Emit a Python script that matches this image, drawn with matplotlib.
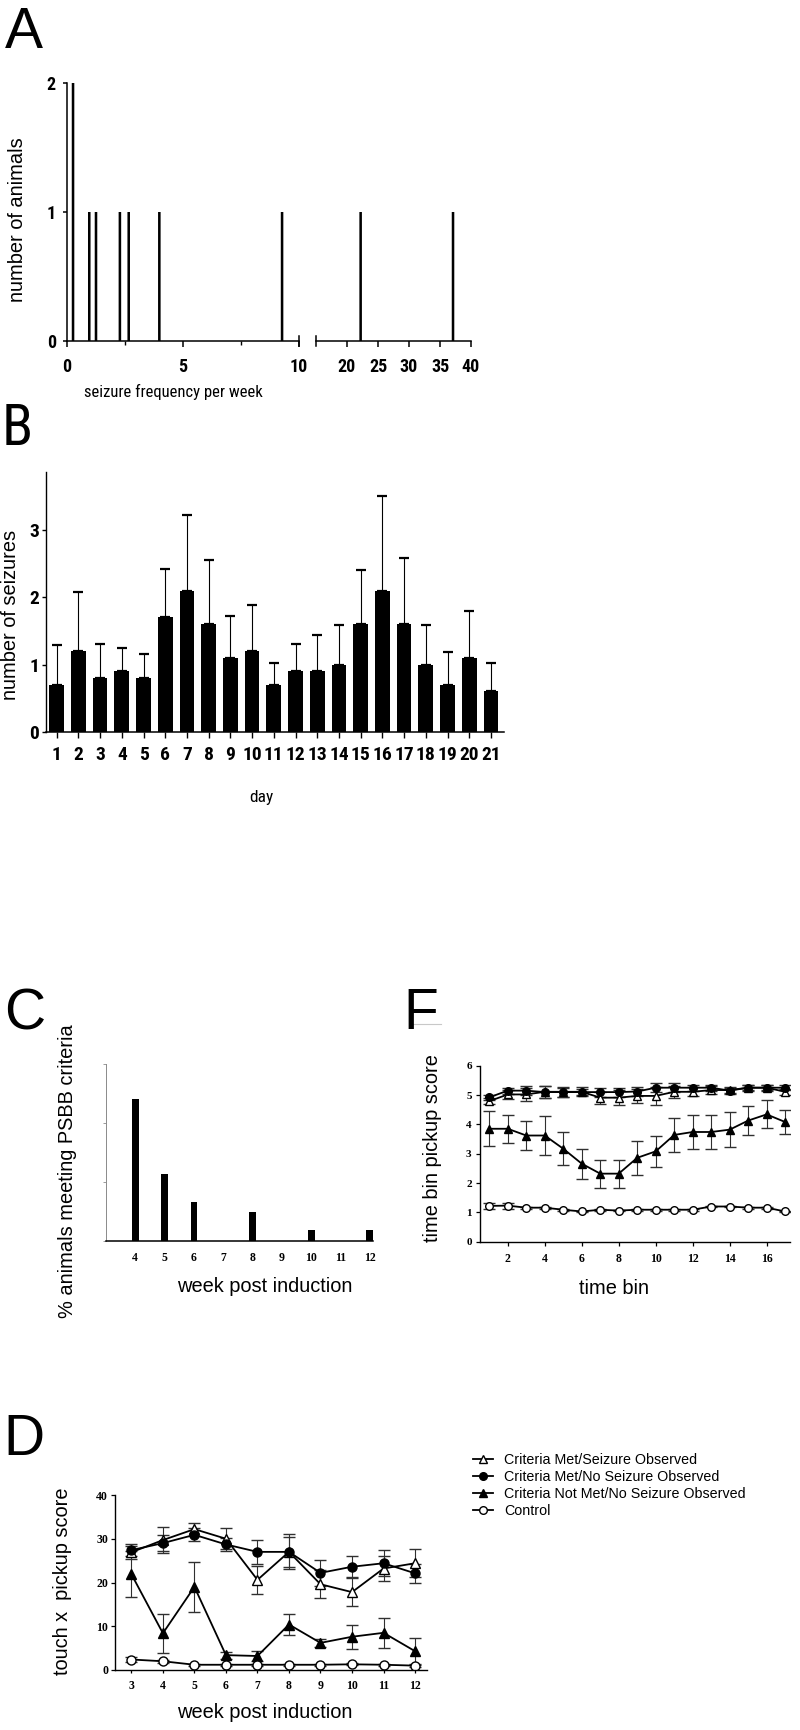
import matplotlib
matplotlib.use('Agg')
import matplotlib.pyplot as plt
from matplotlib import font_manager as fm
from matplotlib.lines import Line2D
import numpy as np

# ---------------- data ----------------
# Panel A: seizure frequency histogram
freq_per_week = [0.26, 0.96, 1.25, 2.28, 2.66, 3.98, 9.27, 22.2, 37.1]
n_animals = [2, 1, 1, 1, 1, 1, 1, 1, 1]
a_yticks = [0, 1, 2]
a_xticks_low = [0, 5, 10]
a_xticks_high = [20, 25, 30, 35, 40]

# Panel B: seizures per day
days = list(range(1, 22))
seizures_mean = [0.7, 1.2, 0.8, 0.9, 0.8, 1.7, 2.1, 1.6, 1.1, 1.2, 0.7,
                 0.9, 0.9, 1.0, 1.6, 2.1, 1.6, 1.0, 0.7, 1.1, 0.6]
seizures_err = [0.59, 0.88, 0.51, 0.35, 0.35, 0.72, 1.12, 0.96, 0.62, 0.68, 0.33,
                0.41, 0.54, 0.59, 0.81, 1.41, 0.99, 0.59, 0.48, 0.70, 0.42]
b_yticks = [0, 1, 2, 3]

# Panel C: % animals meeting PSBB criteria
weeks_c = [4, 5, 6, 7, 8, 9, 10, 11, 12]
pct_c = [48, 22.5, 13, 0, 9.6, 0, 3.5, 0, 3.5]
c_yticks = [0, 20, 40, 60]

# Panel E (labelled F): time bin pickup score
time_bins = list(range(1, 18))
e_met_seiz = [4.79, 5.02, 5.02, 5.11, 5.11, 5.11, 4.91, 4.91, 4.97, 4.97, 5.11,
              5.11, 5.17, 5.17, 5.25, 5.25, 5.11]
e_met_seiz_err = [0.10, 0.15, 0.22, 0.20, 0.18, 0.15, 0.20, 0.25, 0.25, 0.30, 0.20,
                  0.15, 0.15, 0.10, 0.10, 0.10, 0.10]
e_met_noseiz = [4.92, 5.15, 5.15, 5.10, 5.10, 5.10, 5.10, 5.10, 5.12, 5.25, 5.25,
                5.25, 5.25, 5.15, 5.25, 5.25, 5.25]
e_met_noseiz_err = [0.08, 0.10, 0.15, 0.20, 0.15, 0.10, 0.15, 0.15, 0.15, 0.15, 0.15,
                    0.10, 0.10, 0.10, 0.08, 0.08, 0.08]
e_notmet = [3.85, 3.85, 3.62, 3.62, 3.17, 2.66, 2.32, 2.32, 2.86, 3.08, 3.64,
            3.74, 3.74, 3.82, 4.13, 4.34, 4.08]
e_notmet_err = [0.60, 0.48, 0.48, 0.66, 0.57, 0.51, 0.48, 0.48, 0.57, 0.54, 0.57,
                0.57, 0.57, 0.60, 0.50, 0.48, 0.40]
e_control = [1.22, 1.23, 1.16, 1.16, 1.09, 1.03, 1.09, 1.06, 1.09, 1.09, 1.09,
             1.09, 1.20, 1.20, 1.16, 1.16, 1.03]
e_control_err = [0.10, 0.10, 0.03, 0.03, 0.03, 0.03, 0.03, 0.03, 0.03, 0.03, 0.03,
                 0.03, 0.03, 0.03, 0.03, 0.03, 0.03]
e_yticks = [0, 1, 2, 3, 4, 5, 6]
e_xticks = [2, 4, 6, 8, 10, 12, 14, 16]

# Panel D: touch x pickup score
weeks_d = [3, 4, 5, 6, 7, 8, 9, 10, 11, 12]
d_met_seiz = [26.9, 29.7, 32.2, 30.0, 20.6, 27.0, 19.6, 17.8, 23.2, 24.4]
d_met_seiz_err = [1.5, 2.9, 1.5, 2.4, 3.2, 4.0, 3.2, 3.2, 2.9, 3.2]
d_met_noseiz = [27.4, 29.0, 30.9, 28.7, 27.0, 27.0, 22.2, 23.6, 24.4, 22.1]
d_met_noseiz_err = [1.3, 1.8, 1.5, 1.5, 2.7, 3.5, 3.0, 2.4, 3.0, 2.2]
d_notmet = [21.9, 8.4, 19.0, 3.4, 3.2, 10.4, 6.2, 7.6, 8.5, 4.3]
d_notmet_err = [5.2, 4.4, 5.7, 0.8, 1.1, 2.5, 1.0, 2.7, 3.5, 3.0]
d_control = [2.4, 2.0, 1.2, 1.2, 1.2, 1.2, 1.2, 1.3, 1.2, 1.0]
d_control_err = [0.5, 0.3, 0.2, 0.2, 0.2, 0.2, 0.2, 0.2, 0.2, 0.2]
d_yticks = [0, 10, 20, 30, 40]

group_labels = ['Criteria Met/Seizure Observed',
                'Criteria Met/No Seizure Observed',
                'Criteria Not Met/No Seizure Observed',
                'Control']

# ---------------- fonts ----------------
SANS = 'Liberation Sans'
SERIF = 'Liberation Serif'
_names = {f.name for f in fm.fontManager.ttflist}
NARROW = None
for cand in ['Liberation Sans Narrow', 'Arial Narrow', 'DejaVu Sans Condensed',
             'Roboto Condensed', 'Open Sans Condensed', 'Noto Sans Condensed']:
    if cand in _names:
        NARROW = cand
        break
NARROW_STRETCH = 'normal'
if NARROW is None:
    cond = [f for f in fm.fontManager.ttflist
            if str(f.stretch) in ('condensed', 'semi-condensed', '75', '87')
            and 'Serif' not in f.name and 'Mono' not in f.name]
    if cond:
        NARROW = cond[0].name
        NARROW_STRETCH = 'condensed'
NARROW_OK = NARROW is not None
if not NARROW_OK:
    NARROW = SANS
plt.rcParams['font.family'] = [SANS, 'DejaVu Sans']

W, H = 800, 1730
fig = plt.figure(figsize=(W / 100, H / 100), dpi=100)


def rect(l, r, t, b):
    return [l / W, 1 - b / H, (r - l) / W, (b - t) / H]


def ftext(x, y, s, **kw):
    return fig.text(x / W, 1 - y / H, s, **kw)


LAB = 14.4
narrow_kw = dict(fontfamily=NARROW, fontstretch=NARROW_STRETCH)

# ---------------- Panel A ----------------
axA1 = fig.add_axes(rect(67, 299, 83, 341))
axA2 = fig.add_axes(rect(316, 471, 83, 341))
fa = np.array(freq_per_week)
na = np.array(n_animals)
low = fa <= 10
axA1.bar(fa[low], na[low], width=0.11, color='black', snap=False)
axA2.bar(fa[~low], na[~low], width=0.41, color='black', snap=False)
axA1.set_xlim(0, 10)
axA2.set_xlim(15, 40)
for ax in (axA1, axA2):
    ax.set_ylim(0, 2)
    ax.spines['top'].set_visible(False)
    ax.spines['right'].set_visible(False)
    ax.spines['bottom'].set_linewidth(1.1)
    ax.spines['left'].set_linewidth(1.1)
axA2.spines['left'].set_visible(False)
axA2.set_yticks([])
tick_font_a = dict(fontsize=13 if NARROW_OK else 11, fontweight='bold', **narrow_kw)
axA1.set_yticks(a_yticks, labels=[str(v) for v in a_yticks], **tick_font_a)
axA1.set_xticks(a_xticks_low, labels=[str(v) for v in a_xticks_low], **tick_font_a)
axA1.set_xticks([2.5, 7.5], minor=True)
axA2.set_xticks(a_xticks_high, labels=[str(v) for v in a_xticks_high], **tick_font_a)
for ax in (axA1, axA2):
    ax.tick_params(axis='x', which='major', length=4, width=1.1, pad=8.5)
    ax.tick_params(axis='x', which='minor', length=3, width=1.0)
    ax.tick_params(axis='y', length=3, width=1.1, pad=5)
# axis break caps
axA1.plot([1, 1], [-0.02, 0.02], transform=axA1.transAxes, color='black', lw=1.1, clip_on=False)
axA2.plot([0, 0], [-0.02, 0.02], transform=axA2.transAxes, color='black', lw=1.1, clip_on=False)

ftext(18, 219.5, 'number of animals', rotation=90, ha='center', va='center', fontsize=LAB)
ftext(173, 392, 'seizure frequency per week', ha='center', va='center',
      fontsize=12 if NARROW_OK else 10, **narrow_kw)

# ---------------- Panel B ----------------
axB = fig.add_axes(rect(46, 504, 471.7, 731.7))
axB.bar(days, seizures_mean, width=0.68, color='black', zorder=2)
axB.errorbar(days, seizures_mean, yerr=[np.zeros(len(days)), seizures_err], fmt='none',
             ecolor='black', elinewidth=0.8, capsize=3.5, capthick=1.6, zorder=1)
axB.set_xlim(0.51, 21.6)
axB.set_ylim(0, 3.87)
axB.spines['top'].set_visible(False)
axB.spines['right'].set_visible(False)
axB.spines['bottom'].set_linewidth(1.1)
axB.spines['left'].set_linewidth(1.0)
tick_font_b = dict(fontsize=14 if NARROW_OK else 11.5, fontweight='bold', **narrow_kw)
axB.set_xticks(days, labels=[str(d) for d in days], **tick_font_b)
axB.set_yticks(b_yticks, labels=[str(v) for v in b_yticks], **tick_font_b)
axB.tick_params(axis='x', length=4, width=1.0, pad=6)
axB.tick_params(axis='y', length=3, width=1.0, pad=2)
ftext(11, 615, 'number of seizures', rotation=90, ha='center', va='center', fontsize=LAB)
ftext(261, 798, 'day', ha='center', va='center', fontsize=12.5 if NARROW_OK else 11,
      **narrow_kw)

# ---------------- Panel C ----------------
axC = fig.add_axes(rect(106, 373.3, 1063.7, 1240.7))
axC.bar(weeks_c, pct_c, width=0.23, color='black')
axC.set_xlim(3, 12.12)
axC.set_ylim(0, 60)
axC.spines['top'].set_visible(False)
axC.spines['right'].set_visible(False)
axC.spines['left'].set_color('#8a8a8a')
axC.spines['left'].set_linewidth(0.7)
axC.spines['bottom'].set_linewidth(1.1)
axC.set_yticks(c_yticks, labels=[])
axC.tick_params(axis='y', length=2.5, width=0.6, color='#8a8a8a')
axC.set_xticks(weeks_c, labels=[str(w) for w in weeks_c], fontsize=8.5,
               fontweight='bold', fontfamily=SERIF)
axC.tick_params(axis='x', length=0, pad=8)
ftext(68, 1171, '% animals meeting PSBB criteria', rotation=90, ha='center', va='center',
      fontsize=LAB)
ftext(265, 1287, 'week post induction', ha='center', va='center', fontsize=LAB)

# ---------------- shared line styles ----------------
styles = [dict(marker='^', mfc='white'),
          dict(marker='o', mfc='black'),
          dict(marker='^', mfc='black'),
          dict(marker='o', mfc='white')]


def draw_series(ax, x, ys, errs, ms_tri, ms_circ, capsize):
    for y, e, st in zip(ys, errs, styles):
        ms = ms_tri if st['marker'] == '^' else ms_circ
        ax.errorbar(x, y, yerr=e, color='black', lw=1.3, marker=st['marker'], ms=ms,
                    mfc=st['mfc'], mec='black', mew=1.0, ecolor='#303030',
                    elinewidth=0.8, capsize=capsize, capthick=0.8)


def style_serif_axes(ax):
    ax.spines['top'].set_visible(False)
    ax.spines['right'].set_visible(False)
    ax.spines['bottom'].set_linewidth(1.0)
    ax.spines['left'].set_linewidth(1.0)


# ---------------- Panel E (labelled F) ----------------
axE = fig.add_axes(rect(480, 790, 1065.7, 1241.7))
draw_series(axE, time_bins, [e_met_seiz, e_met_noseiz, e_notmet, e_control],
            [e_met_seiz_err, e_met_noseiz_err, e_notmet_err, e_control_err],
            ms_tri=6, ms_circ=5.5, capsize=4)
axE.set_xlim(0.5, 17.26)
axE.set_ylim(0, 6)
style_serif_axes(axE)
axE.set_yticks(e_yticks, labels=[str(v) for v in e_yticks], fontsize=8,
               fontweight='bold', fontfamily=SERIF)
axE.set_xticks(e_xticks, labels=[str(v) for v in e_xticks], fontsize=8.5,
               fontweight='bold', fontfamily=SERIF)
axE.tick_params(axis='y', length=3, width=0.9, pad=3)
axE.tick_params(axis='x', length=3, width=0.9, pad=5)
ftext(432, 1148, 'time bin pickup score', rotation=90, ha='center', va='center', fontsize=LAB)
ftext(614, 1288, 'time bin', ha='center', va='center', fontsize=LAB)

# ---------------- Panel D ----------------
axD = fig.add_axes(rect(115, 426.7, 1495, 1670))
draw_series(axD, weeks_d, [d_met_seiz, d_met_noseiz, d_notmet, d_control],
            [d_met_seiz_err, d_met_noseiz_err, d_notmet_err, d_control_err],
            ms_tri=7, ms_circ=6.5, capsize=4.5)
axD.set_xlim(2.48, 12.37)
axD.set_ylim(0, 40)
style_serif_axes(axD)
axD.set_yticks(d_yticks, labels=[str(v) for v in d_yticks], fontsize=8.5,
               fontweight='bold', fontfamily=SERIF)
axD.set_xticks(weeks_d, labels=[str(v) for v in weeks_d], fontsize=8.5,
               fontweight='bold', fontfamily=SERIF)
axD.tick_params(axis='y', length=3, width=0.9, pad=2)
axD.tick_params(axis='x', length=2, width=0.9, pad=5)
ftext(62, 1581, 'touch x  pickup score', rotation=90, ha='center', va='center', fontsize=LAB)
ftext(265, 1713, 'week post induction', ha='center', va='center', fontsize=LAB)

# ---------------- legend ----------------
handles = [Line2D([], [], color='black', lw=1.3, marker=st['marker'],
                  ms=6 if st['marker'] == '^' else 5.5, mfc=st['mfc'], mec='black', mew=1.0)
           for st in styles]
fig.legend(handles, group_labels, loc='upper left', bbox_to_anchor=(473 / W, 1 - 1453 / H),
           frameon=False, fontsize=10.3, handlelength=1.4, handletextpad=0.75,
           labelspacing=0.2, borderpad=0, borderaxespad=0)

# ---------------- panel letters ----------------
LET = 41
ftext(5, 48, 'A', fontsize=LET, ha='left', va='baseline')
ftext(2, 445, 'B', fontsize=LET, ha='left', va='baseline', **narrow_kw)
ftext(4, 1029, 'C', fontsize=LET, ha='left', va='baseline')
ftext(403, 1029, 'F', fontsize=LET, ha='left', va='baseline')
fig.add_artist(Line2D([413 / W, 441 / W], [1 - 1024 / H] * 2, color='#c8c8c8', lw=0.8))
ftext(3, 1455, 'D', fontsize=LET, ha='left', va='baseline')

fig.savefig('out.png', dpi=100)
